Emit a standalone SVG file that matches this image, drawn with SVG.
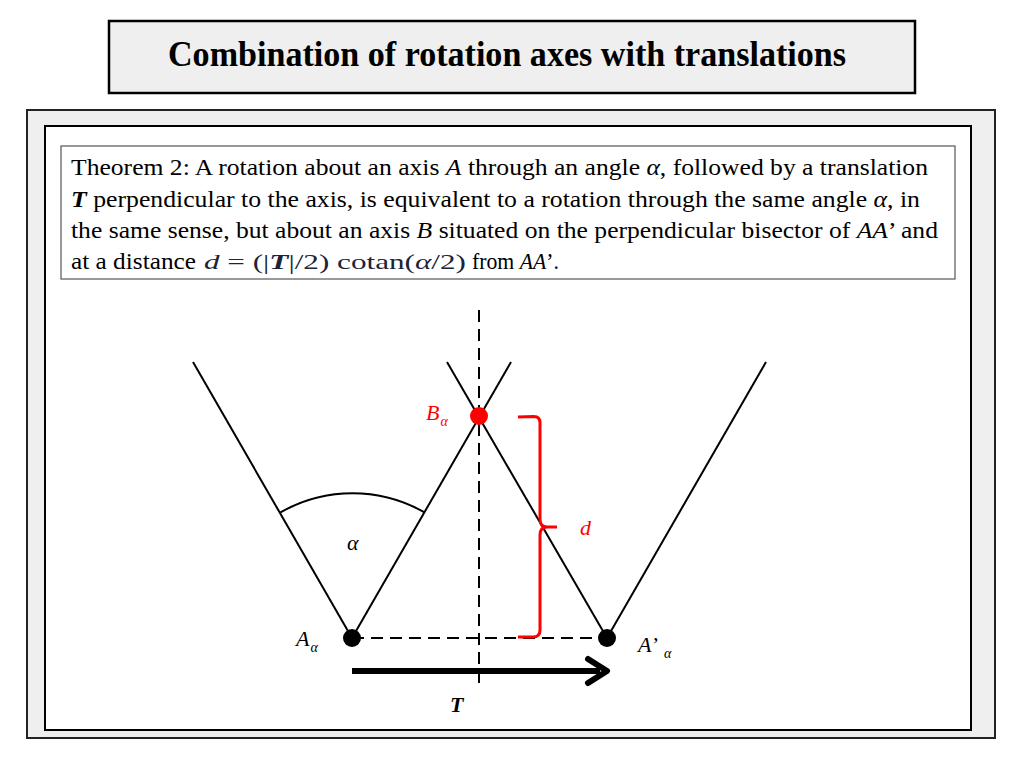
<svg xmlns="http://www.w3.org/2000/svg" width="1024" height="768" viewBox="0 0 1024 768">
<defs>
<style>
.serif{font-family:"Liberation Serif","Times New Roman",serif;}
.body{font-size:22.5px;fill:#000;}
.ln{stroke:#000;stroke-width:2;fill:none;}
.dash{stroke:#000;stroke-width:2;stroke-dasharray:12 7;fill:none;}
.lbl{font-size:22px;font-style:italic;}
.sub{font-size:14px;font-style:italic;}
</style>
</defs>
<rect width="1024" height="768" fill="#fff"/>
<g id="title">
<rect x="109" y="21" width="806" height="72" fill="#efefef" stroke="#000" stroke-width="2.5"/>
<text x="168" y="66" class="serif" font-size="35" font-weight="bold" textLength="678" lengthAdjust="spacingAndGlyphs">Combination of rotation axes with translations</text>
</g>
<g id="panel">
<rect x="27" y="110" width="968" height="628" fill="#efefef" stroke="#222" stroke-width="2"/>
<rect x="45" y="126" width="926" height="604" fill="#fff" stroke="#000" stroke-width="2"/>
</g>
<g id="theorem">
<rect x="61" y="146" width="894" height="133" fill="#fff" stroke="#555" stroke-width="1.2"/>
<text class="serif body" x="71" y="175" textLength="857" lengthAdjust="spacingAndGlyphs">Theorem 2: A rotation about an axis <tspan font-style="italic">A</tspan> through an angle <tspan font-style="italic">α</tspan>, followed by a translation</text>
<text class="serif body" x="71" y="207" textLength="849" lengthAdjust="spacingAndGlyphs"><tspan font-style="italic" font-weight="bold">T</tspan> perpendicular to the axis, is equivalent to a rotation through the same angle <tspan font-style="italic">α</tspan>, in</text>
<text class="serif body" x="71" y="238" textLength="867" lengthAdjust="spacingAndGlyphs">the same sense, but about an axis <tspan font-style="italic">B</tspan> situated on the perpendicular bisector of <tspan font-style="italic">AA</tspan>’ and</text>
<text class="serif body" x="71" y="269" textLength="125" lengthAdjust="spacingAndGlyphs">at a distance</text>
<text class="serif" x="204" y="269" font-size="22" fill="#1c2438" textLength="262" lengthAdjust="spacingAndGlyphs"><tspan font-style="italic">d</tspan> = (|<tspan font-style="italic" font-weight="bold">T</tspan>|/2) cotan(<tspan font-style="italic">α</tspan>/2)</text>
<text class="serif body" x="472" y="269" textLength="87" lengthAdjust="spacingAndGlyphs">from <tspan font-style="italic">AA</tspan>’.</text>
</g>
<g id="connectors">
<line class="dash" x1="479" y1="310" x2="479" y2="688"/>
<line class="dash" x1="352" y1="638" x2="607" y2="638"/>
<line class="ln" x1="352" y1="638" x2="193" y2="362"/>
<line class="ln" x1="352" y1="638" x2="511" y2="362"/>
<line class="ln" x1="607" y1="638" x2="447" y2="362"/>
<line class="ln" x1="607" y1="638" x2="766" y2="362"/>
<path class="ln" d="M280.5,512.4 A145,145 0 0 1 424.5,512.4"/>
<path d="M518,417 L534,416.5 Q540,416.5 540,423 L540,519 Q540,527 547,527 L557,527 M547,527 Q540,527 540,535 L540,630 Q540,637 533,637 L518,637" fill="none" stroke="#f00" stroke-width="3" stroke-linejoin="round"/>
<line x1="352" y1="671" x2="600" y2="671" stroke="#000" stroke-width="6"/>
<path d="M588,659 L607,671 L588,683" fill="none" stroke="#000" stroke-width="6" stroke-linecap="round" stroke-linejoin="round"/>
</g>
<g id="nodeA">
<circle cx="352" cy="638" r="9" fill="#000"/>
<text class="serif lbl" x="296" y="646">A<tspan class="sub" dx="1" dy="6">α</tspan></text>
</g>
<g id="nodeA2">
<circle cx="607" cy="638" r="9" fill="#000"/>
<text class="serif lbl" x="638" y="652">A’<tspan class="sub" dx="6" dy="6">α</tspan></text>
</g>
<g id="nodeB">
<circle cx="479" cy="416" r="9" fill="#f00"/>
<text class="serif lbl" x="426" y="420" fill="#f00">B<tspan class="sub" dx="1" dy="6">α</tspan></text>
</g>
<g id="labels">
<text class="serif lbl" x="580" y="535" fill="#f00">d</text>
<text class="serif lbl" x="347" y="550">α</text>
<text class="serif" x="450" y="712" font-size="22" font-style="italic" font-weight="bold">T</text>
</g>
</svg>
